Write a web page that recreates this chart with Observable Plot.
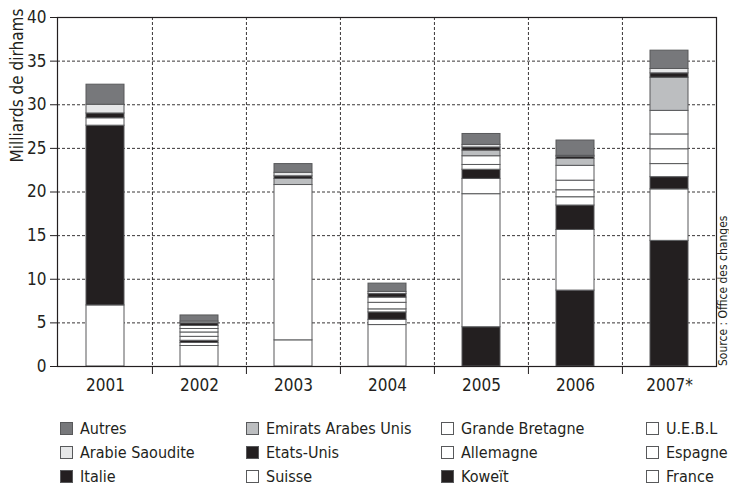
<!DOCTYPE html>
<html>
<head>
<meta charset="utf-8">
<script src="https://cdn.jsdelivr.net/npm/d3@7"></script>
<script src="https://cdn.jsdelivr.net/npm/@observablehq/plot@0.6"></script>
<style>
  body { margin: 0; background: #fff; }
  #wrap { position: relative; width: 729px; height: 488px; font-family: "Liberation Sans Narrow", "DejaVu Sans Condensed", sans-serif; color: #231f20; }
  #legend { position: absolute; left: 60px; top: 416px; display: grid; grid-template-columns: 186px 195px 205px 80px; grid-auto-rows: 24px; font-size: 16px; }
  .item { display: flex; align-items: center; white-space: nowrap; }
  .sw { flex: none; width: 13px; height: 13px; border: 1px solid #58595b; margin-right: 7px; box-sizing: border-box; }
  #source { position: absolute; left: 717px; top: 366px; transform-origin: 0 0; transform: rotate(-90deg); font-size: 12px; line-height: 12px; white-space: nowrap; }
</style>
</head>
<body>
<div id="wrap"><div id="chart"></div><div id="legend"></div><div id="source">Source : Office des changes</div></div>
<script>
const years = ["2001", "2002", "2003", "2004", "2005", "2006", "2007*"];
// series in stacking order, bottom to top
const seriesNames = ["Koweït", "France", "Espagne", "Etats-Unis", "U.E.B.L", "Allemagne", "Grande Bretagne", "Suisse", "Emirats Arabes Unis", "Italie", "Arabie Saoudite", "Autres"];
const koweit    = [0, 0, 0, 0, 4.5, 8.7, 14.4];
const france    = [7.0, 2.35, 3.0, 4.75, 15.25, 6.95, 5.9];
const espagne   = [0, 0.35, 17.8, 0.6, 1.75, 0, 0];
const etatsUnis = [20.6, 0.25, 0, 0.85, 1.05, 2.8, 1.4];
const uebl      = [0.85, 0.45, 0, 0.35, 0.55, 0.95, 1.5];
const allemagne = [0, 0.5, 0, 0.75, 1.0, 0.8, 1.7];
const grandeBretagne = [0, 0.4, 0, 0.6, 0, 1.1, 1.7];
const suisse    = [0, 0.35, 0, 0, 0, 1.7, 2.7];
const emirats   = [0, 0, 0.7, 0, 0.65, 0.8, 3.8];
const italie    = [0.55, 0.3, 0.3, 0.4, 0.35, 0.25, 0.5];
const arabie    = [1.0, 0.2, 0.4, 0.25, 0.3, 0.1, 0.5];
const autres    = [2.3, 0.7, 1.0, 0.95, 1.25, 1.75, 2.1];
const seriesValues = [koweit, france, espagne, etatsUnis, uebl, allemagne, grandeBretagne, suisse, emirats, italie, arabie, autres];
const yTicks = [0, 5, 10, 15, 20, 25, 30, 35, 40];
const yGrid = [5, 10, 15, 20, 25, 30, 35];
const legendOrder = ["Autres", "Emirats Arabes Unis", "Grande Bretagne", "U.E.B.L", "Arabie Saoudite", "Etats-Unis", "Allemagne", "Espagne", "Italie", "Suisse", "Koweït", "France"];

const BLACK = "#231f20", WHITE = "#ffffff";
const seriesColors = [BLACK, WHITE, WHITE, BLACK, WHITE, WHITE, WHITE, WHITE, "#bcbec0", BLACK, "#e6e7e8", "#77787b"];

const rows = [];
seriesNames.forEach((s, j) => {
  years.forEach((y, i) => {
    const v = seriesValues[j][i];
    if (v > 0) rows.push({year: y, series: s, value: v});
  });
});

const W = 729, H = 400, ML = 57, MR = 13, MT = 17, MB = 34;
const step = (W - ML - MR) / years.length;
const font = '"Liberation Sans Narrow", "DejaVu Sans Condensed", sans-serif';

const chart = Plot.plot({
  width: W, height: H,
  marginLeft: ML, marginRight: MR, marginTop: MT, marginBottom: MB,
  style: {fontFamily: font, fontSize: "17px", color: BLACK, background: "white"},
  x: {domain: years, paddingInner: 0.6, paddingOuter: 0.3, axis: null, label: null},
  y: {domain: [0, 40], axis: null, label: null},
  color: {domain: seriesNames, range: seriesColors},
  marks: [
    Plot.ruleY(yGrid, {stroke: BLACK, strokeDasharray: "3,2", strokeWidth: 0.9}),
    Plot.ruleX(years.slice(1), {dx: -step / 2, stroke: BLACK, strokeDasharray: "3,2", strokeWidth: 0.9}),
    Plot.barY(rows, Plot.stackY({x: "year", y: "value", fill: "series", stroke: "#58595b", strokeWidth: 1})),
    Plot.frame({stroke: BLACK, strokeWidth: 1.2}),
    Plot.axisY(yTicks, {tickSize: 7, tickPadding: 4, label: null, stroke: BLACK, fill: BLACK}),
    Plot.axisX({tickSize: 0, tickPadding: 12, label: null, fill: BLACK}),
    Plot.axisX(years.slice(1), {tickSize: 8, dx: -step / 2, tickFormat: () => "", label: null, stroke: BLACK}),
    Plot.text(["Milliards de dirhams"], {frameAnchor: "top-left", textAnchor: "middle", rotate: -90, dx: -47, dy: 68, fill: BLACK, fontSize: 17})
  ]
});
document.getElementById("chart").appendChild(chart);

const colorOf = Object.fromEntries(seriesNames.map((s, i) => [s, seriesColors[i]]));
const legend = document.getElementById("legend");
legendOrder.forEach(name => {
  const it = document.createElement("div");
  it.className = "item";
  const sw = document.createElement("span");
  sw.className = "sw";
  sw.style.background = colorOf[name];
  it.appendChild(sw);
  it.appendChild(document.createTextNode(name));
  legend.appendChild(it);
});
</script>
</body>
</html>
